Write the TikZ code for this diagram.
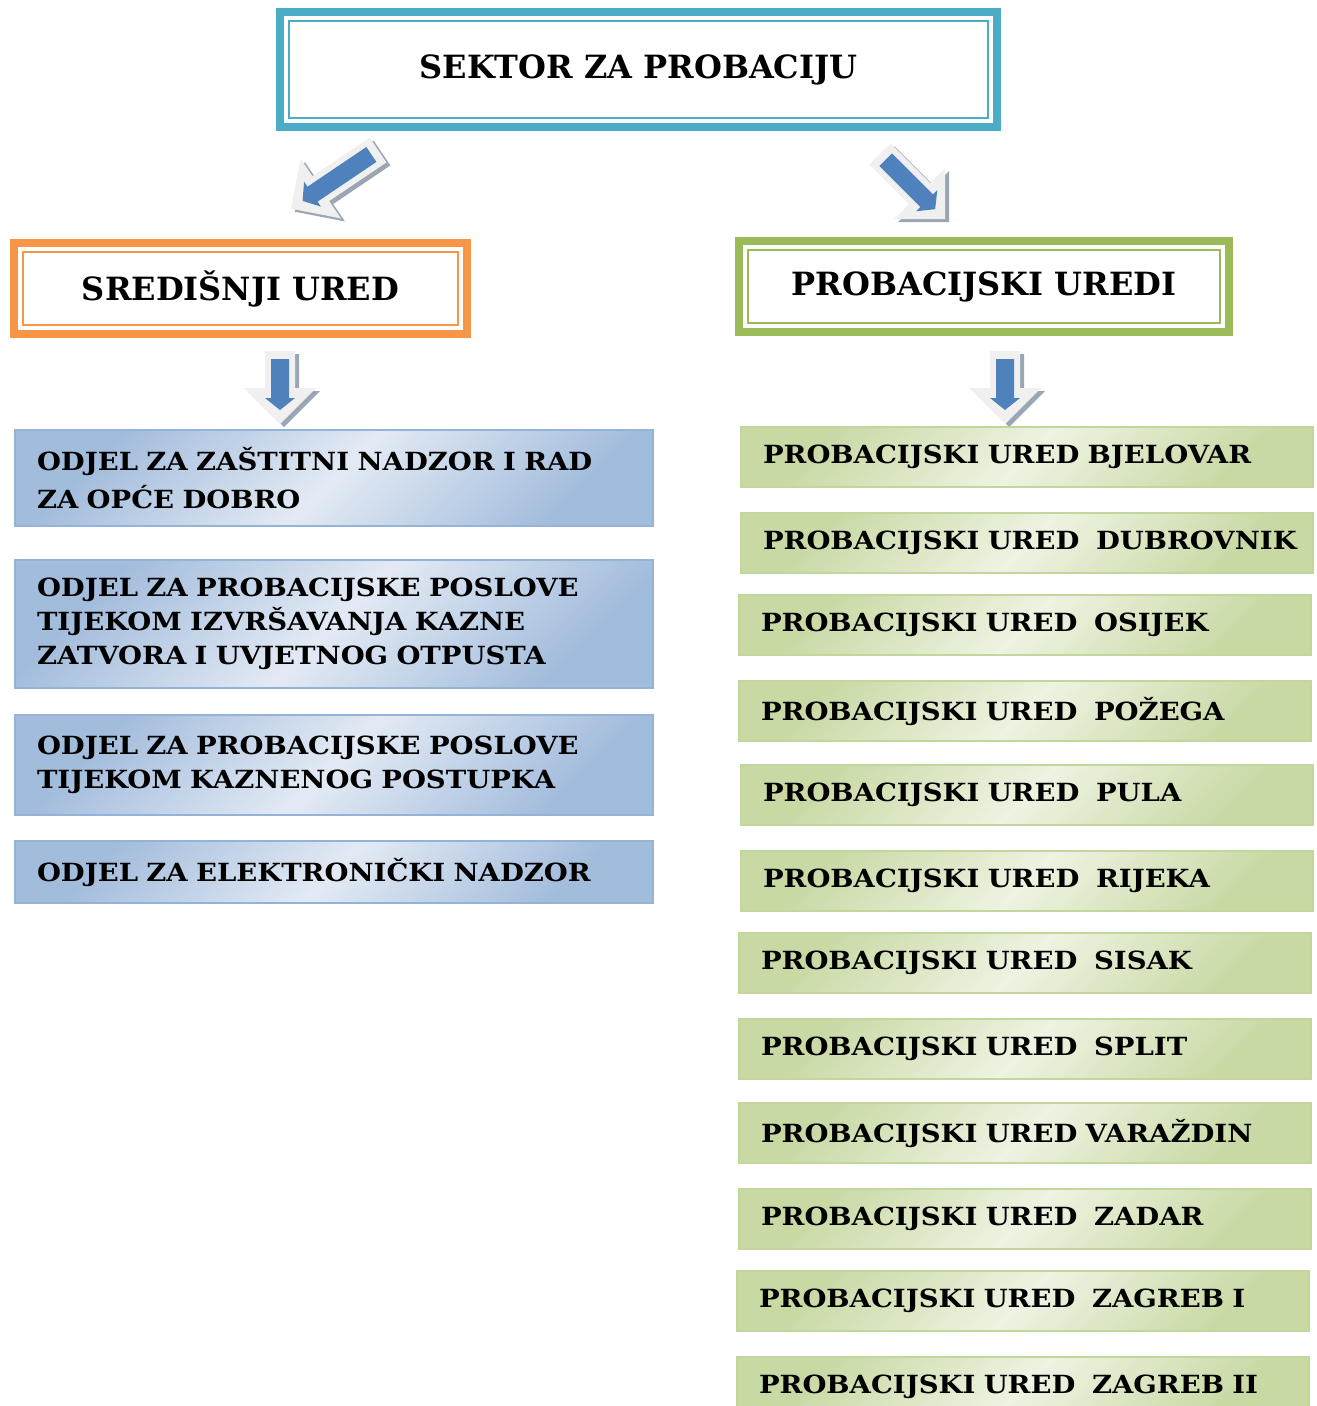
\documentclass[tikz,border=0pt]{standalone}
\usepackage{fontspec}
\setmainfont{DejaVu Serif}
\newfontfamily\odjelfamily[FakeStretch=1.1]{DejaVu Serif}
\usepackage{tikz}
\usetikzlibrary{positioning}

\definecolor{sektorblue}{HTML}{4BACC6}
\definecolor{uredorange}{HTML}{F79646}
\definecolor{uredgreen}{HTML}{9BBB59}
\definecolor{odjelline}{HTML}{95B3D7}
\definecolor{odjeldark}{HTML}{A2BCDC}
\definecolor{odjellight}{HTML}{E3EAF4}
\definecolor{probline}{HTML}{C3D69B}
\definecolor{probdark}{HTML}{C8D9A4}
\definecolor{problight}{HTML}{EEF3E2}
\definecolor{arrowblue}{HTML}{4F81BD}
\definecolor{arrowlight}{HTML}{F0F0F0}
\definecolor{arrowshade}{HTML}{9AA6B4}

\newcommand{\headfont}{\fontsize{32}{38}\selectfont\bfseries}
\newcommand{\boxfont}{\odjelfamily\fontsize{25}{34}\selectfont\bfseries}

% block arrow: tail centre, rotation, length
\newcommand{\probarrow}[4]{%
  \begin{scope}[shift={(#1+4,#2+3)}, rotate=#3]
    \fill[arrowshade] (-15,0) -- (15,0) -- (15,#4-36) -- (36,#4-36) -- (0,#4)
      -- (-36,#4-36) -- (-15,#4-36) -- cycle;
  \end{scope}
  \begin{scope}[shift={(#1,#2)}, rotate=#3]
    \fill[arrowlight] (-15,0) -- (15,0) -- (15,#4-36) -- (36,#4-36) -- (0,#4)
      -- (-36,#4-36) -- (-15,#4-36) -- cycle;
    \fill[arrowblue] (-9,8) -- (9,8) -- (9,#4-26) -- (15,#4-26) -- (0,#4-14)
      -- (-15,#4-26) -- (-9,#4-26) -- cycle;
  \end{scope}}

\begin{document}
\begin{tikzpicture}[x=1pt, y=-1pt,
  headbox/.style={draw=#1, line width=8pt, outer sep=0pt, fill=white,
    font=\headfont, align=center},
  odjelbox/.style={draw=odjelline, line width=2pt, outer sep=0pt,
    top color=odjeldark, bottom color=odjeldark, middle color=odjellight,
    shading angle=45, anchor=north west, minimum width=638,
    text width=594, inner xsep=22, align=left, font=\boxfont},
  uredbox/.style={draw=probline, line width=2pt, outer sep=0pt,
    top color=probdark, bottom color=probdark, middle color=problight,
    shading angle=45, anchor=north west, minimum width=572,
    minimum height=60, text width=528, inner xsep=22, align=left,
    font=\boxfont}]

\useasboundingbox (0,0) rectangle (1317,1406);

% top level
\node[headbox=sektorblue, minimum width=717, minimum height=115]
  (sektor) at (638.5,69.5) {SEKTOR ZA PROBACIJU};
\draw[sektorblue, line width=2.3pt] ([shift={(9,9)}]sektor.north west)
  rectangle ([shift={(-9,-9)}]sektor.south east);

% second level
\node[headbox=uredorange, minimum width=453, minimum height=91]
  (sredisnji) at (240.5,288.5) {SREDIŠNJI URED};
\draw[uredorange, line width=2.3pt] ([shift={(9,9)}]sredisnji.north west)
  rectangle ([shift={(-9,-9)}]sredisnji.south east);

\node[headbox=uredgreen, minimum width=490, minimum height=91]
  (uredi) at (984,286.5) {PROBACIJSKI UREDI};
\draw[uredgreen, line width=2.3pt] ([shift={(9,9)}]uredi.north west)
  rectangle ([shift={(-9,-9)}]uredi.south east);

% arrows
\probarrow{378}{150}{-56}{105}
\probarrow{880}{154}{45}{92}
\probarrow{280}{351}{0}{73}
\probarrow{1005}{351}{0}{73}

% odjeli
\node[odjelbox, minimum height=96] (odjel1) at (15,430)
  {ODJEL ZA ZAŠTITNI NADZOR I RAD\\[4pt] ZA OPĆE DOBRO};
\node[odjelbox, minimum height=128] (odjel2) at (15,560)
  {ODJEL ZA PROBACIJSKE POSLOVE\\ TIJEKOM IZVRŠAVANJA KAZNE\\ ZATVORA I UVJETNOG OTPUSTA};
\node[odjelbox, minimum height=100] (odjel3) at (15,715)
  {ODJEL ZA PROBACIJSKE POSLOVE\\ TIJEKOM KAZNENOG POSTUPKA};
\node[odjelbox, minimum height=62] (odjel4) at (15,841)
  {ODJEL ZA ELEKTRONIČKI NADZOR};

% probacijski uredi
\foreach \y/\x/\grad [count=\i] in {427/741/{\ BJELOVAR}, 513/741/{\ \ DUBROVNIK},
    595/739/{\ \ OSIJEK}, 681/739/{\ \ POŽEGA}, 765/741/{\ \ PULA},
    851/741/{\ \ RIJEKA}, 933/739/{\ \ SISAK}, 1019/739/{\ \ SPLIT},
    1103/739/{\ VARAŽDIN}, 1189/739/{\ \ ZADAR}, 1271/737/{\ \ ZAGREB I},
    1357/737/{\ \ ZAGREB II}}
  \node[uredbox] (ured\i) at (\x,\y) {\mbox{PROBACIJSKI URED\grad}};

\end{tikzpicture}
\end{document}
